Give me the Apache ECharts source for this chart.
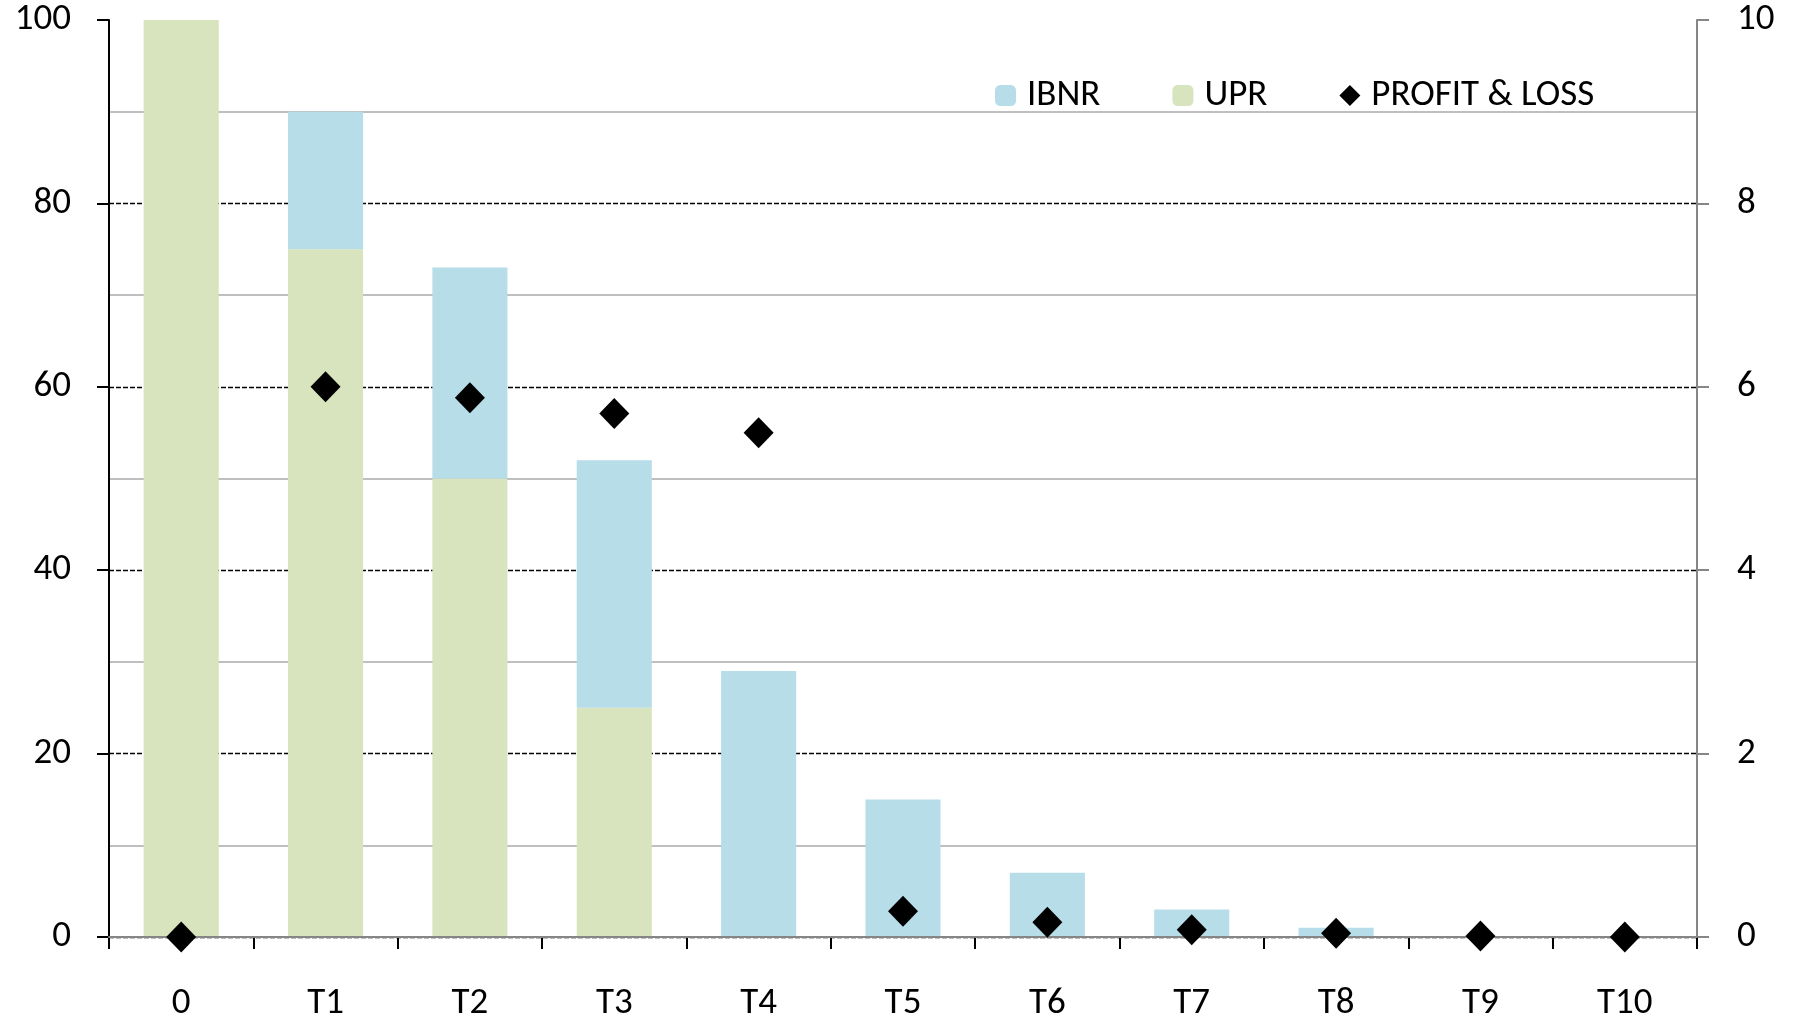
<!DOCTYPE html>
<html>
<head>
<meta charset="utf-8">
<script src="https://cdn.jsdelivr.net/npm/echarts@6/dist/echarts.min.js"></script>
<style>
  html, body { margin: 0; padding: 0; background: #fff; }
  #chart { width: 1794px; height: 1018px; }
</style>
</head>
<body>
<div id="chart"></div>
<script>
const categories = ['0', 'T1', 'T2', 'T3', 'T4', 'T5', 'T6', 'T7', 'T8', 'T9', 'T10']
const upr = [100, 75, 50, 25, 0, 0, 0, 0, 0, 0, 0]
const ibnr = [0, 15, 23, 27, 29, 15, 7, 3, 1, 0, 0]
const profitLoss = [0, 6.0, 5.88, 5.71, 5.5, 0.28, 0.16, 0.08, 0.04, 0.01, 0.0]

const font = 'Carlito, Lato, sans-serif'

const chart = echarts.init(document.getElementById('chart'))

const option = {
  animation: false,
  textStyle: { fontFamily: font },
  grid: { left: 109, right: 97, top: 20, bottom: 81, outerBoundsMode: 'none' },
  legend: {
    left: 995,
    top: 77,
    padding: 0,
    itemWidth: 21,
    itemHeight: 21,
    itemGap: 72,
    textStyle: { fontFamily: font, fontSize: 37, color: '#000', padding: [0, 0, 0, 6] },
    data: ['IBNR', 'UPR', 'PROFIT & LOSS']
  },
  xAxis: [
    {
      type: 'category',
      data: categories,
      axisLine: { lineStyle: { color: '#000', width: 2 } },
      axisTick: { show: true, length: 12, lineStyle: { color: '#000', width: 2 } },
      axisLabel: { color: '#000', fontSize: 37, margin: 48 }
    },
    {
      type: 'category',
      data: categories,
      position: 'top',
      z: 5,
      axisLine: { lineStyle: { color: '#868686', width: 2 } },
      axisTick: { show: false },
      axisLabel: { show: false }
    }
  ],
  yAxis: [
    {
      type: 'value',
      min: 0,
      max: 100,
      interval: 20,
      axisLine: { show: true, lineStyle: { color: '#000', width: 2 } },
      axisTick: { show: true, length: 12, lineStyle: { color: '#000', width: 2 } },
      axisLabel: { color: '#000', fontSize: 37, margin: 38, padding: [5, 0, 0, 0] },
      splitLine: { show: true, showMaxLine: false, lineStyle: { color: '#000', width: 1.3, type: [5, 2] } },
      minorTick: { show: false, splitNumber: 2 },
      minorSplitLine: { show: true, lineStyle: { color: '#BFBFBF', width: 2 } }
    },
    {
      type: 'value',
      min: 0,
      max: 10,
      interval: 2,
      position: 'right',
      axisLine: { show: true, lineStyle: { color: '#868686', width: 2 } },
      axisTick: { show: true, length: 12, lineStyle: { color: '#868686', width: 2 } },
      axisLabel: { color: '#000', fontSize: 37, margin: 40, padding: [5, 0, 0, 0] },
      splitLine: { show: false }
    }
  ],
  series: [
    {
      name: 'UPR',
      type: 'bar',
      stack: 'total',
      data: upr,
      barWidth: '52%',
      itemStyle: { color: '#D7E4BD' }
    },
    {
      name: 'IBNR',
      type: 'bar',
      stack: 'total',
      data: ibnr,
      barWidth: '52%',
      itemStyle: { color: '#B7DDE8' }
    },
    {
      name: 'PROFIT & LOSS',
      type: 'scatter',
      yAxisIndex: 1,
      data: profitLoss,
      symbol: 'diamond',
      symbolSize: [30, 31],
      z: 10,
      itemStyle: { color: '#000', opacity: 1 }
    }
  ]
}

chart.setOption(option)
</script>
</body>
</html>
